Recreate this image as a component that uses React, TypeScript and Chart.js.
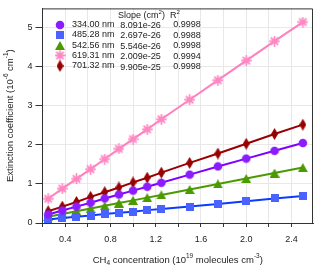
import React, { useEffect, useRef } from "react";
import { Chart, registerables } from "chart.js";

Chart.register(...registerables);

const concentration = [0.25, 0.375, 0.5, 0.625, 0.75, 0.875, 1.0, 1.125, 1.25, 1.5, 1.75, 2.0, 2.25, 2.5];
const ext334 = [0.22, 0.32, 0.42, 0.52, 0.63, 0.73, 0.83, 0.93, 1.03, 1.24, 1.45, 1.65, 1.85, 2.05];
const ext485 = [0.09, 0.13, 0.16, 0.19, 0.23, 0.26, 0.29, 0.33, 0.36, 0.42, 0.49, 0.56, 0.63, 0.69];
const ext542 = [0.16, 0.23, 0.3, 0.37, 0.44, 0.51, 0.58, 0.65, 0.72, 0.86, 1.0, 1.14, 1.28, 1.42];
const ext619 = [0.62, 0.88, 1.13, 1.38, 1.64, 1.9, 2.15, 2.4, 2.66, 3.16, 3.66, 4.16, 4.66, 5.15];
const ext701 = [0.3, 0.42, 0.54, 0.67, 0.79, 0.91, 1.04, 1.16, 1.29, 1.54, 1.78, 2.03, 2.28, 2.52];

const wavelengths = ["334.00 nm", "485.28 nm", "542.56 nm", "619.31 nm", "701.32 nm"];
const slopes = ["8.091e-26", "2.697e-26", "5.546e-26", "2.009e-25", "9.905e-25"];
const r2Values = ["0.9998", "0.9988", "0.9998", "0.9994", "0.9998"];
const xTicks = [0.2, 0.4, 0.6, 0.8, 1.0, 1.2, 1.4, 1.6, 1.8, 2.0, 2.2, 2.4];
const yTicks = [0, 1, 2, 3, 4, 5];

const FONT = "'Liberation Sans', Arial, sans-serif";
const TEXT = "#222";

type Part = [string, "n" | "sup" | "sub"];

function richWidth(ctx: CanvasRenderingContext2D, parts: Part[], size: number) {
  let w = 0;
  for (const [t, k] of parts) {
    ctx.font = `${k === "n" ? size : size * 0.68}px ${FONT}`;
    w += ctx.measureText(t).width;
  }
  return w;
}

function drawRich(ctx: CanvasRenderingContext2D, parts: Part[], x: number, y: number, size: number, align: "left" | "center") {
  const w = richWidth(ctx, parts, size);
  let cx = align === "center" ? x - w / 2 : x;
  ctx.textAlign = "left";
  ctx.textBaseline = "middle";
  ctx.fillStyle = TEXT;
  for (const [t, k] of parts) {
    const s = k === "n" ? size : size * 0.68;
    ctx.font = `${s}px ${FONT}`;
    const dy = k === "sup" ? -size * 0.4 : k === "sub" ? size * 0.3 : 0;
    ctx.fillText(t, cx, y + dy);
    cx += ctx.measureText(t).width;
  }
}

function makeMarker(w: number, h: number, draw: (c: CanvasRenderingContext2D) => void) {
  const cv = document.createElement("canvas");
  cv.width = w;
  cv.height = h;
  const c = cv.getContext("2d")!;
  draw(c);
  return cv;
}

export default function App() {
  const ref = useRef<HTMLCanvasElement>(null);

  useEffect(() => {
    const colors = ["#8000ff", "#0a3cff", "#4a9a00", "#ff80c0", "#990000"];
    const circle = makeMarker(10, 10, (c) => {
      c.fillStyle = "#8a1cff";
      c.beginPath();
      c.arc(5, 5, 4.3, 0, Math.PI * 2);
      c.fill();
    });
    const square = makeMarker(8, 8, (c) => {
      c.fillStyle = "#4a62ff";
      c.fillRect(0, 0, 8, 8);
    });
    const triangle = makeMarker(10, 9, (c) => {
      c.fillStyle = "#4a9a00";
      c.beginPath();
      c.moveTo(5, 0);
      c.lineTo(10, 9);
      c.lineTo(0, 9);
      c.closePath();
      c.fill();
    });
    const star = makeMarker(11, 11, (c) => {
      c.strokeStyle = "#ff88c4";
      c.lineWidth = 1.8;
      c.lineCap = "round";
      c.beginPath();
      for (let i = 0; i < 4; i++) {
        const a = (i * Math.PI) / 4;
        c.moveTo(5.5 + Math.cos(a) * 4.5, 5.5 + Math.sin(a) * 4.5);
        c.lineTo(5.5 - Math.cos(a) * 4.5, 5.5 - Math.sin(a) * 4.5);
      }
      c.stroke();
      c.fillStyle = "#ff88c4";
      c.beginPath();
      c.arc(5.5, 5.5, 2.2, 0, Math.PI * 2);
      c.fill();
    });
    const diamond = makeMarker(7, 12, (c) => {
      c.fillStyle = "#990000";
      c.beginPath();
      c.moveTo(3.5, 0);
      c.lineTo(7, 6);
      c.lineTo(3.5, 12);
      c.lineTo(0, 6);
      c.closePath();
      c.fill();
    });
    const markers = [circle, square, triangle, star, diamond];
    const series = [ext334, ext485, ext542, ext619, ext701];

    const overlay = {
      id: "overlay",
      afterDraw(chart: any) {
        const ctx: CanvasRenderingContext2D = chart.ctx;
        const { left, top, right, bottom } = chart.chartArea;
        ctx.save();
        ctx.strokeStyle = "#333";
        ctx.lineWidth = 1;
        ctx.beginPath();
        ctx.moveTo(left, top + 0.5);
        ctx.lineTo(right - 0.5, top + 0.5);
        ctx.lineTo(right - 0.5, bottom);
        ctx.stroke();

        // legend
        drawRich(ctx, [["Slope (cm", "n"], ["2", "sup"], [")", "n"]], 118, 15.5, 9, "left");
        drawRich(ctx, [["R", "n"], ["2", "sup"]], 170, 15.5, 9, "left");
        for (let i = 0; i < 5; i++) {
          const y = 24.7 + i * 10.2;
          const y2 = 24.6 + i * 10.5;
          const m = markers[i];
          ctx.drawImage(m, 60 - m.width / 2, Math.round(y - m.height / 2));
          drawRich(ctx, [[wavelengths[i], "n"]], 72, y, 9, "left");
          drawRich(ctx, [[slopes[i], "n"]], 120.3, y2 + 0.5, 9, "left");
          drawRich(ctx, [[r2Values[i], "n"]], 173.3, y2, 9, "left");
        }

        // axis titles
        drawRich(
          ctx,
          [["CH", "n"], ["4", "sub"], [" concentration (10", "n"], ["19", "sup"], [" molecules cm", "n"], ["-3", "sup"], [")", "n"]],
          (left + right) / 2,
          260,
          9.5,
          "center"
        );
        ctx.translate(10, (top + bottom) / 2);
        ctx.rotate(-Math.PI / 2);
        drawRich(
          ctx,
          [["Extinction coefficient (10", "n"], ["-6", "sup"], [" cm", "n"], ["-1", "sup"], [")", "n"]],
          0,
          0,
          9.5,
          "center"
        );
        ctx.restore();
      },
    };

    const chart = new Chart(ref.current!, {
      type: "scatter",
      data: {
        datasets: series.map((arr, i) => ({
          label: wavelengths[i],
          data: concentration.map((c, j) => ({ x: c, y: arr[j] })),
          showLine: true,
          borderColor: colors[i],
          backgroundColor: colors[i],
          borderWidth: 2,
          pointStyle: markers[i] as any,
          pointRadius: 5,
          order: i === 3 ? 0 : 1,
        })),
      },
      options: {
        animation: false,
        responsive: true,
        maintainAspectRatio: false,
        layout: { padding: { top: 3, right: 4, left: 0, bottom: 0 } },
        plugins: { legend: { display: false }, tooltip: { enabled: false } },
        scales: {
          x: {
            type: "linear",
            min: 0.2,
            max: 2.59,
            afterBuildTicks: (s: any) => {
              s.ticks = xTicks.map((v) => ({ value: v }));
            },
            afterFit: (s: any) => {
              s.height = 46;
            },
            ticks: {
              autoSkip: false,
              maxRotation: 0,
              padding: 7,
              color: TEXT,
              font: { family: FONT, size: 9 },
              callback: (v: any) => (Math.round(Number(v) * 10) % 4 === 0 ? Number(v).toFixed(1) : ""),
            },
            grid: { color: "#e8e8e8", tickColor: "#333", tickLength: 4 },
            border: { color: "#333" },
          },
          y: {
            type: "linear",
            min: 0,
            max: 5.5,
            afterBuildTicks: (s: any) => {
              s.ticks = yTicks.map((v) => ({ value: v }));
            },
            afterFit: (s: any) => {
              s.width = 42.5;
            },
            ticks: {
              padding: 3,
              color: TEXT,
              font: { family: FONT, size: 9 },
              callback: (v: any) => String(v),
            },
            grid: { color: "#e8e8e8", tickColor: "#333", tickLength: 7 },
            border: { color: "#333" },
          },
        },
      },
      plugins: [overlay],
    } as any);
    return () => chart.destroy();
  }, []);

  return (
    <div style={{ position: "fixed", left: 0, top: 0, width: 320, height: 269, background: "#fff" }}>
      <canvas ref={ref} />
    </div>
  );
}
